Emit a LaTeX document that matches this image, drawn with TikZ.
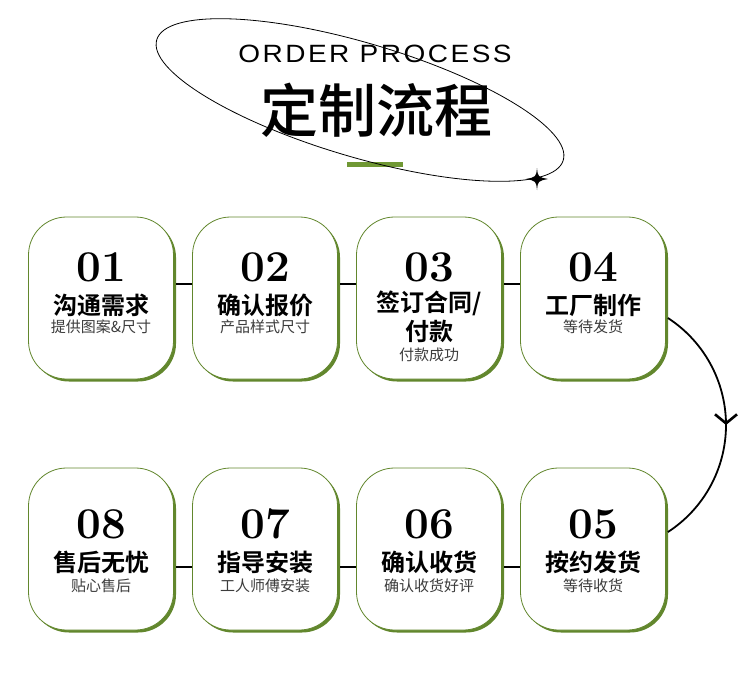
\documentclass[tikz,border=0pt]{standalone}
\usepackage{fontspec}
\newfontfamily\cjkfont{Noto Sans CJK SC}[BoldFont={Noto Sans CJK SC Bold}]
\newfontfamily\cjkmedium{Noto Sans CJK SC Medium}
\newfontfamily\headfont{Liberation Sans}[LetterSpace=10,FakeStretch=1.12]
\usepackage{tikz}
\usetikzlibrary{arrows.meta,decorations.markings}
\usetikzlibrary{shadows}
\usetikzlibrary{positioning}
\definecolor{boxgreen}{RGB}{98,135,45}
\definecolor{bargreen}{RGB}{112,152,52}
\definecolor{subgray}{RGB}{60,60,60}

\begin{document}
\begin{tikzpicture}[
  x = 1pt, y = -1pt,
  box/.style = {draw=boxgreen,line width=0.8pt,fill=white,rounded corners=38pt,
    minimum width=145pt,minimum height=162pt,inner sep=0pt,
    drop shadow={shadow xshift=2.5pt,shadow yshift=-2.5pt,fill=boxgreen,opacity=1}},
  num/.style = {font=\bfseries\fontsize{44}{44}\selectfont},
  title/.style = {font=\cjkfont\bfseries\fontsize{24}{28}\selectfont},
  sub/.style = {font=\cjkfont\fontsize{15}{17}\selectfont,text=subgray},
  link/.style = {line width=1.5pt},
  arrow inside/.style = {postaction=decorate,decoration={markings,mark=at position .5 with {\arrow{Straight Barb[length=9pt,width=22pt,line width=2.6pt]}}}}
  ]
  \useasboundingbox (0,0) rectangle (750,678);

  % heading
  \fill[bargreen] (347,162) rectangle (403,167);
  \node[font=\headfont\fontsize{25}{28}\selectfont] (head) at (375,54) {ORDER PROCESS};
  \node[font=\cjkmedium\fontsize{58}{64}\selectfont] (headcn) at (376,110) {定制流程};
  \draw[line width=0.8pt,rotate around={-16.5:(360,100)}] (360,100) ellipse [x radius=212,y radius=57];
  \fill (537,168) .. controls (538,177) .. (548,179) .. controls (538,181) .. (537,190)
    .. controls (536,181) .. (526,179) .. controls (536,177) .. (537,168);

  % upper row
  \node[box] (b1) at (101,298) {};
  \node[box] (b2) at (265,298) {};
  \node[box] (b3) at (429,298) {};
  \node[box] (b4) at (593,298) {};
  \node[num] (n1) at (101,267) {01};
  \node[title] (t1) at (101,305) {沟通需求};
  \node[sub] (s1) at (101,327) {提供图案\&尺寸};
  \node[num] (n2) at (265,267) {02};
  \node[title] (t2) at (265,305) {确认报价};
  \node[sub] (s2) at (265,327) {产品样式尺寸};
  \node[num] (n3) at (429,267) {03};
  \node[title] (t3) at (429,303) {签订合同/};
  \node[title] (t3b) at (429,331) {付款};
  \node[sub] (s3) at (429,355) {付款成功};
  \node[num] (n4) at (593,267) {04};
  \node[title] (t4) at (593,305) {工厂制作};
  \node[sub] (s4) at (593,327) {等待发货};

  % lower row
  \node[box] (b5) at (593,549) {};
  \node[box] (b6) at (429,549) {};
  \node[box] (b7) at (265,549) {};
  \node[box] (b8) at (101,549) {};
  \node[num] (n5) at (593,524) {05};
  \node[title] (t5) at (593,562) {按约发货};
  \node[sub] (s5) at (593,586) {等待收货};
  \node[num] (n6) at (429,524) {06};
  \node[title] (t6) at (429,562) {确认收货};
  \node[sub] (s6) at (429,586) {确认收货好评};
  \node[num] (n7) at (265,524) {07};
  \node[title] (t7) at (265,562) {指导安装};
  \node[sub] (s7) at (265,586) {工人师傅安装};
  \node[num] (n8) at (101,524) {08};
  \node[title] (t8) at (101,562) {售后无忧};
  \node[sub] (s8) at (101,586) {贴心售后};

  \draw[link] ([xshift=2.5pt,yshift=14pt]b1.east) -- ([yshift=14pt]b2.west);
  \draw[link] ([xshift=2.5pt,yshift=14pt]b2.east) -- ([yshift=14pt]b3.west);
  \draw[link] ([xshift=2.5pt,yshift=14pt]b3.east) -- ([yshift=14pt]b4.west);
  \draw[link] ([xshift=2.5pt,yshift=-18pt]b8.east) -- ([yshift=-18pt]b7.west);
  \draw[link] ([xshift=2.5pt,yshift=-18pt]b7.east) -- ([yshift=-18pt]b6.west);
  \draw[link] ([xshift=2.5pt,yshift=-18pt]b6.east) -- ([yshift=-18pt]b5.west);
  \draw[link,line width=1.8pt,arrow inside] ([xshift=2pt,yshift=-20pt]b4.east) arc[start angle=-57,end angle=57,radius=127.6];
\end{tikzpicture}
\end{document}
